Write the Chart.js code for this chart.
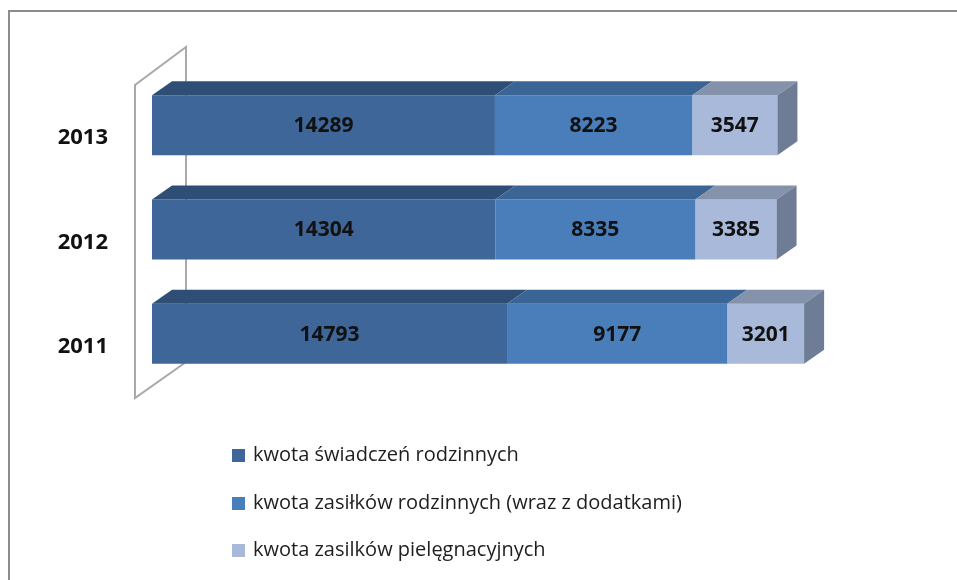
<!DOCTYPE html>
<html lang="pl">
<head>
    <meta charset="UTF-8">
    <title>Kwoty świadczeń 2011-2013</title>
    <style>
        * { margin: 0; padding: 0; box-sizing: border-box; }
        html, body { width: 957px; height: 580px; overflow: hidden; background: #fff; }
        .frame { position: absolute; left: 8px; top: 10px; width: 1000px; height: 620px; border: 2px solid #8c8c8c; }
        .wrap { position: absolute; left: 0; top: 0; width: 957px; height: 580px; }
        .legend { position: absolute; left: 232px; top: 436px; font-family: 'Open Sans', sans-serif; font-size: 20px; color: #1e1e1e; }
        .legend div { height: 47.5px; line-height: 36px; white-space: nowrap; }
        .legend span.box { display: inline-block; width: 13px; height: 13px; margin-right: 8px; vertical-align: -1px; }
    </style>
</head>
<body>
    <div class="frame"></div>
    <div class="wrap"><canvas id="chart" width="957" height="580"></canvas></div>
    <div class="legend" id="legend"></div>

    <script src="https://cdn.jsdelivr.net/npm/chart.js"></script>
    <script>
        // values, top bar first
        const years = ['2013', '2012', '2011'];
        const seriesNames = ['kwota świadczeń rodzinnych', 'kwota zasiłków rodzinnych (wraz z dodatkami)', 'kwota zasilków pielęgnacyjnych'];
        const swiadczenia = [14289, 14304, 14793];
        const zasilki = [8223, 8335, 9177];
        const pielegnacyjne = [3547, 3385, 3201];

        const frontColors = ['#3e6699', '#4a7ebb', '#a8b9d9'];
        const topColors = ['#2f4e76', '#3b6595', '#8492ab'];
        const sideColor = '#6e7c95';
        const DX = 20, DY = 14;

        const labelFont = 'bold 21px "Open Sans", sans-serif';

        // 3D look: wall behind, top faces + right side, then value labels
        const fake3d = {
            id: 'fake3d',
            beforeDatasetsDraw(chart) {
                const c = chart.ctx, a = chart.chartArea;
                const x0 = chart.scales.x.getPixelForValue(0);
                c.save();
                c.strokeStyle = '#a9a9a9';
                c.lineWidth = 2;
                c.beginPath();
                c.moveTo(x0 + 34, a.top - 26);
                c.lineTo(x0 - 17, a.top + 12);
                c.lineTo(x0 - 17, a.bottom + 12);
                c.lineTo(x0 + 34, a.bottom - 24);
                c.closePath();
                c.stroke();
                c.restore();
            },
            afterDatasetsDraw(chart) {
                const c = chart.ctx;
                const n = chart.data.datasets.length;
                c.save();
                chart.data.datasets.forEach((ds, di) => {
                    chart.getDatasetMeta(di).data.forEach(bar => {
                        const p = bar.getProps(['x', 'y', 'base', 'height'], true);
                        const l = Math.min(p.x, p.base), r = Math.max(p.x, p.base);
                        const t = p.y - p.height / 2, b = p.y + p.height / 2;
                        c.fillStyle = topColors[di];
                        c.beginPath();
                        c.moveTo(l, t); c.lineTo(r, t); c.lineTo(r + DX, t - DY); c.lineTo(l + DX, t - DY);
                        c.closePath(); c.fill();
                        if (di === n - 1) {
                            c.fillStyle = sideColor;
                            c.beginPath();
                            c.moveTo(r, t); c.lineTo(r + DX, t - DY); c.lineTo(r + DX, b - DY); c.lineTo(r, b);
                            c.closePath(); c.fill();
                        }
                    });
                });
                // value labels
                c.font = labelFont;
                c.fillStyle = '#111';
                c.textAlign = 'center';
                c.textBaseline = 'middle';
                chart.data.datasets.forEach((ds, di) => {
                    chart.getDatasetMeta(di).data.forEach((bar, i) => {
                        const p = bar.getProps(['x', 'y', 'base'], true);
                        c.fillText(String(ds.data[i]), (p.x + p.base) / 2, p.y + 1);
                    });
                });
                // category labels, sit a bit lower like the reference
                const ys = chart.scales.y;
                c.font = 'bold 22px "Open Sans", sans-serif';
                c.textAlign = 'right';
                chart.data.labels.forEach((lab, i) => {
                    c.fillText(lab, 108, ys.getPixelForValue(i) + 13);
                });
                c.restore();
            }
        };

        const values = [swiadczenia, zasilki, pielegnacyjne];
        const chart = new Chart(document.getElementById('chart'), {
            type: 'bar',
            data: {
                labels: years,
                datasets: values.map((v, i) => ({
                    label: seriesNames[i],
                    data: v,
                    backgroundColor: frontColors[i],
                    borderWidth: 0,
                    categoryPercentage: 1,
                    barPercentage: 0.575
                }))
            },
            options: {
                indexAxis: 'y',
                responsive: false,
                animation: false,
                layout: { padding: { left: 152, right: 85, top: 73, bottom: 194 } },
                plugins: { legend: { display: false }, tooltip: { enabled: false } },
                scales: {
                    x: { stacked: true, min: 0, max: 30000, display: false },
                    y: { stacked: true, display: false }
                }
            },
            plugins: [fake3d]
        });

        const legend = document.getElementById('legend');
        chart.data.datasets.forEach(ds => {
            const row = document.createElement('div');
            row.innerHTML = '<span class="box" style="background:' + ds.backgroundColor + '"></span>' + ds.label;
            legend.appendChild(row);
        });
    </script>
</body>
</html>
